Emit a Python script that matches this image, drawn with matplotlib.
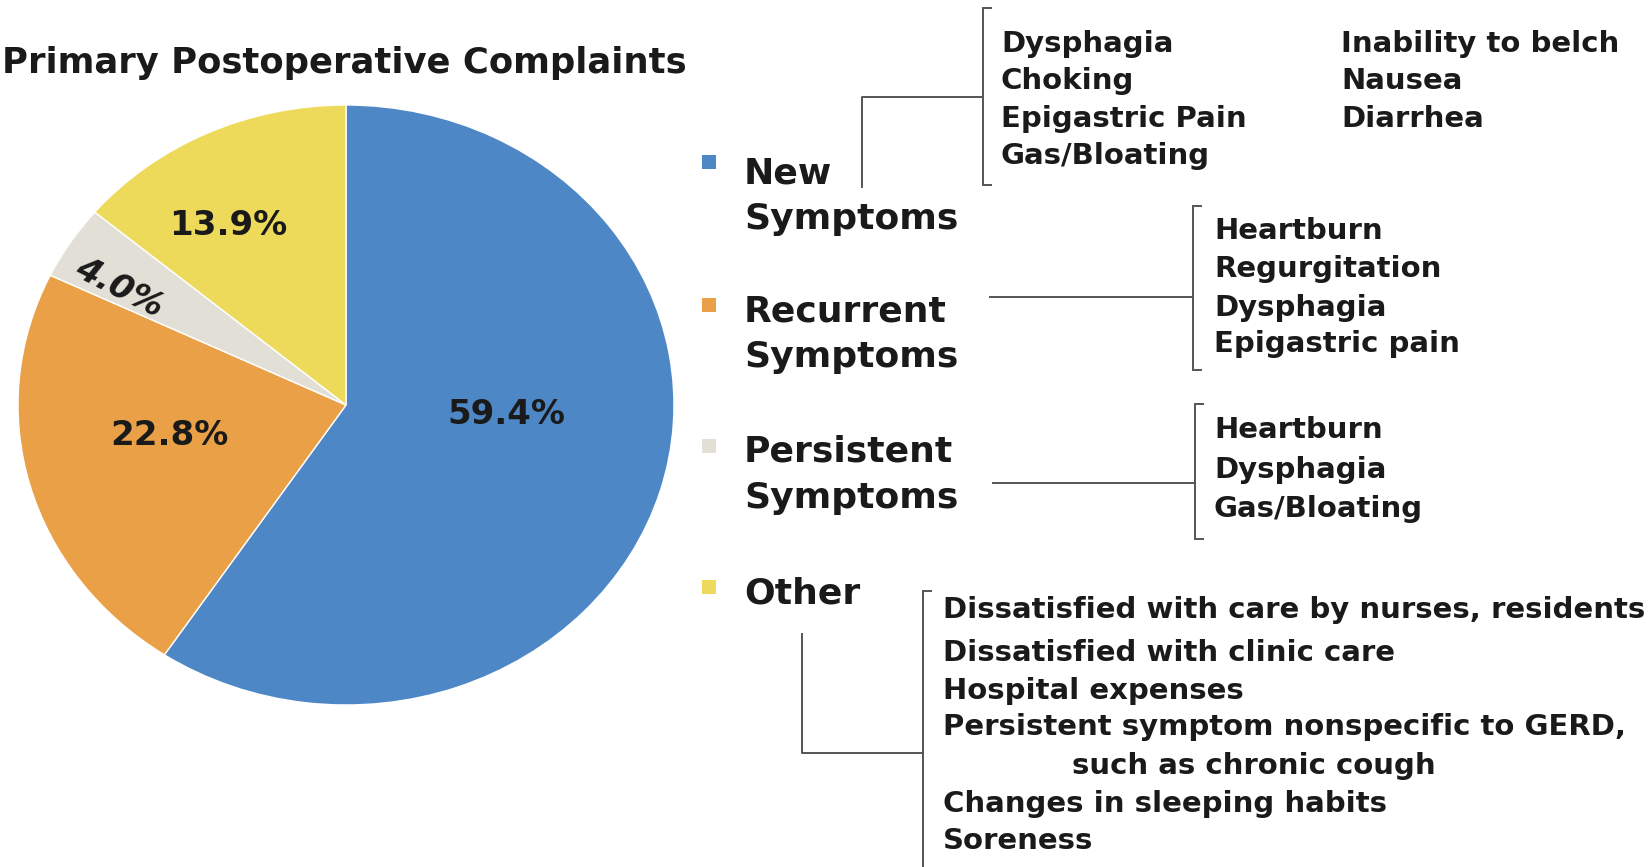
import matplotlib
matplotlib.use("Agg")
import matplotlib.pyplot as plt

# Share of primary postoperative complaints
categories = ["New\nSymptoms", "Recurrent\nSymptoms", "Persistent\nSymptoms", "Other"]
shares = [59.4, 22.8, 4.0, 13.9]
colors = ["#4E87C5", "#E9A046", "#E2E0D6", "#EEDA5A"]

# Complaints listed under each category
new_col1 = ["Dysphagia", "Choking", "Epigastric Pain", "Gas/Bloating"]
new_col2 = ["Inability to belch", "Nausea", "Diarrhea"]
recurrent_items = ["Heartburn", "Regurgitation", "Dysphagia", "Epigastric pain"]
persistent_items = ["Heartburn", "Dysphagia", "Gas/Bloating"]
other_items = ["Dissatisfied with care by nurses, residents",
               "Dissatisfied with clinic care",
               "Hospital expenses",
               "Persistent symptom nonspecific to GERD,",
               "such as chronic cough",
               "Changes in sleeping habits",
               "Soreness"]

title = "Primary Postoperative Complaints"

W, H = 1648, 867
fig = plt.figure(figsize=(W / 100, H / 100), dpi=100)
plt.rcParams["font.family"] = ["DejaVu Sans"]
TXT = "#1a1a1a"
LINE = "#555555"

# ---- pie (slightly elliptical, drawn in a free-aspect axes) ----
cx, cy, rx, ry = 346, 405, 328, 300
pie_ax = fig.add_axes([(cx - rx) / W, (H - cy - ry) / H, 2 * rx / W, 2 * ry / H])
pie_ax.pie(shares, colors=colors, startangle=90, counterclock=False,
           wedgeprops=dict(edgecolor="white", linewidth=1.0))
pie_ax.set_aspect("auto")
pie_ax.set_xlim(-1, 1)
pie_ax.set_ylim(-1, 1)
pie_ax.axis("off")

# value labels inside the wedges
label_pos = [(0.49, -0.03), (-0.537, -0.10), (-0.69, 0.39), (-0.36, 0.60)]
label_rot = [0, 0, -27, 0]
for v, (lx, ly), rot in zip(shares, label_pos, label_rot):
    pie_ax.text(lx, ly, f"{v:.1f}%", ha="center", va="center", fontsize=24.5,
                fontweight="bold", color=TXT, rotation=rot,
                style="italic" if rot else "normal")

# ---- overlay in pixel coordinates for title, legend and brackets ----
ov = fig.add_axes([0, 0, 1, 1])
ov.set_xlim(0, W)
ov.set_ylim(H, 0)
ov.axis("off")

ov.text(2, 63, title, ha="left", va="center", fontsize=25.5, fontweight="bold", color=TXT)

# legend entries
legend_y = [(173, 219), (311, 357), (452, 498), (593, None)]
sq_y = [162, 305, 446, 587]
for cat, col, (y1, y2), sy in zip(categories, colors, legend_y, sq_y):
    ov.add_patch(plt.Rectangle((702, sy - 7), 14, 14, color=col, lw=0))
    parts = cat.split("\n")
    ov.text(744, y1, parts[0], ha="left", va="center", fontsize=26,
            fontweight="bold", color=TXT)
    if len(parts) > 1:
        ov.text(744, y2, parts[1], ha="left", va="center", fontsize=26,
                fontweight="bold", color=TXT)


def bracket(x, y0, y1, tick=8):
    ov.plot([x + tick, x, x, x + tick], [y0, y0, y1, y1], color=LINE, lw=1.4,
            solid_joinstyle="miter")


def items(x, ys, labels, size=21):
    for y, lab in zip(ys, labels):
        ov.text(x, y, lab, ha="left", va="center", fontsize=size,
                fontweight="bold", color=TXT)


# new symptoms
bracket(983, 8, 185)
ov.plot([862, 862, 983], [187, 97, 97], color=LINE, lw=1.4)
items(1001, [44, 81, 119, 156], new_col1)
items(1341, [44, 81, 119], new_col2)

# recurrent symptoms
bracket(1193, 206, 370)
ov.plot([990, 1193], [297, 297], color=LINE, lw=1.4)
items(1214, [231, 269, 308, 344], recurrent_items)

# persistent symptoms
bracket(1195, 404, 539)
ov.plot([993, 1195], [483, 483], color=LINE, lw=1.4)
items(1214, [430, 470, 509], persistent_items)

# other
bracket(923, 591, 870)
ov.plot([802, 802, 923], [634, 753, 753], color=LINE, lw=1.4)
other_x = [943, 943, 943, 943, 1072, 943, 943]
other_y = [610, 653, 691, 727, 766, 804, 841]
for x, y, lab in zip(other_x, other_y, other_items):
    ov.text(x, y, lab, ha="left", va="center", fontsize=21,
            fontweight="bold", color=TXT)

fig.savefig("out.png", dpi=100, facecolor="white")
